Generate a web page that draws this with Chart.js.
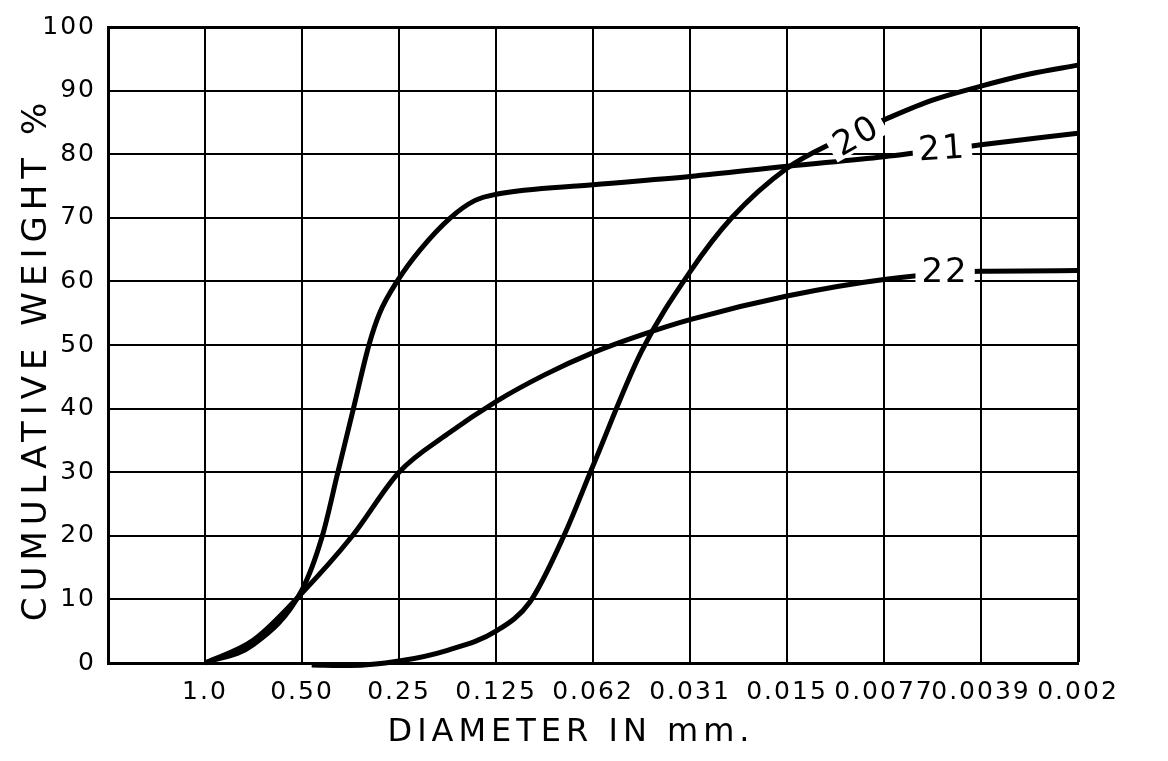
<!DOCTYPE html>
<html>
<head>
<meta charset="utf-8">
<script src="https://cdn.jsdelivr.net/npm/chart.js@4/dist/chart.umd.min.js"></script>
<style>
  html, body { margin: 0; padding: 0; background: #fff; }
</style>
</head>
<body>
<canvas id="sizeChart" width="1168" height="761"></canvas>
<script>
// tick labels, placed at positions 1..10 on the x axis
const diameters = ['1.0', '0.50', '0.25', '0.125', '0.062', '0.031', '0.015', '0.0077', '0.0039', '0.002'];

// sample 20
const pos20 = [2.1, 2.5, 3.0, 3.5, 4.0, 4.35, 4.7, 5.0, 5.5, 6.0, 6.43, 7.0, 7.5, 8.0, 8.5, 9.0, 9.5, 10.0];
const val20 = [-0.3, -0.4, 0.3, 2, 5, 9.6, 20, 31, 49, 61.5, 70, 77.8, 82, 85.4, 88.5, 90.7, 92.6, 94];

// sample 21
const pos21 = [1.0, 1.5, 2.0, 2.21, 2.37, 2.53, 2.69, 2.8, 2.98, 3.22, 3.53, 3.78, 4.0, 5.0, 6.0, 7.0, 8.0, 9.0, 10.0];
const val21 = [0, 2.9, 11.5, 20, 30, 40, 50, 55, 60, 65, 70, 72.7, 73.7, 75.2, 76.5, 78.1, 79.6, 81.5, 83.3];

// sample 22
const pos22 = [1.0, 1.5, 2.0, 2.52, 3.0, 3.5, 4.0, 4.5, 5.0, 5.5, 6.0, 7.0, 8.0, 9.0, 10.0];
const val22 = [0, 3.6, 11, 20, 30, 36, 41.1, 45.3, 48.8, 51.6, 54, 57.7, 60.3, 61.6, 61.7];

// curve labels written on the lines
const curveNames = ['20', '21', '22'];
const namePos = [7.72, 8.6, 8.63];
const nameVal = [82.8, 80.8, 61.4];
const nameAngle = [-30, -4, 0];

const xTitle = 'DIAMETER IN mm.';
const yTitle = 'CUMULATIVE WEIGHT %';

const font = 'DejaVu Sans';

function pts(xs, ys) {
    return xs.map((x, i) => ({ x: x, y: ys[i] }));
}

function curve(label, xs, ys) {
    return {
        label: label,
        data: pts(xs, ys),
        borderColor: '#000',
        borderWidth: 5,
        pointRadius: 0,
        cubicInterpolationMode: 'monotone',
        fill: false,
        clip: 6
    };
}

const spacing = {
    id: 'spacing',
    beforeLayout(chart) { chart.ctx.letterSpacing = '2px'; },
    beforeDraw(chart) { chart.ctx.letterSpacing = '2px'; }
};

const curveLabels = {
    id: 'curveLabels',
    afterDatasetsDraw(chart) {
        const ctx = chart.ctx;
        const xs = chart.scales.x;
        const ys = chart.scales.y;
        ctx.save();
        ctx.font = '34px "' + font + '"';
        ctx.textAlign = 'center';
        ctx.textBaseline = 'middle';
        curveNames.forEach((name, i) => {
            const px = xs.getPixelForValue(namePos[i]);
            const py = ys.getPixelForValue(nameVal[i]);
            const w = ctx.measureText(name).width;
            ctx.save();
            ctx.translate(px, py);
            ctx.rotate(nameAngle[i] * Math.PI / 180);
            ctx.fillStyle = '#fff';
            ctx.fillRect(-w / 2 - 6, -13, w + 12, 26);
            ctx.fillStyle = '#000';
            ctx.fillText(name, 0, 1);
            ctx.restore();
        });
        ctx.restore();
    }
};

// axis titles, drawn here so they can get their own wide letter spacing
const axisTitles = {
    id: 'axisTitles',
    afterDraw(chart) {
        const ctx = chart.ctx;
        const a = chart.chartArea;
        ctx.save();
        ctx.fillStyle = '#000';
        ctx.textAlign = 'center';
        ctx.textBaseline = 'middle';
        ctx.letterSpacing = '5px';
        ctx.font = '32px "' + font + '"';
        ctx.fillText(xTitle, (a.left + a.right) / 2 - 22, chart.height - 28);
        ctx.translate(37, (a.top + a.bottom) / 2 + 14);
        ctx.rotate(-Math.PI / 2);
        ctx.letterSpacing = '6px';
        ctx.font = '34px "' + font + '"';
        ctx.fillText(yTitle, 0, 0);
        ctx.restore();
    }
};

new Chart(document.getElementById('sizeChart').getContext('2d'), {
    type: 'line',
    data: {
        datasets: [
            curve('20', pos20, val20),
            curve('21', pos21, val21),
            curve('22', pos22, val22)
        ]
    },
    options: {
        responsive: false,
        animation: false,
        layout: { padding: { top: 23, right: 90, left: 0, bottom: 0 } },
        plugins: {
            legend: { display: false },
            tooltip: { enabled: false }
        },
        scales: {
            x: {
                type: 'linear',
                min: 0,
                max: 10,
                afterFit: (s) => { s.height = 98; },
                ticks: {
                    stepSize: 1,
                    autoSkip: false,
                    maxRotation: 0,
                    padding: 14,
                    color: '#000',
                    font: { family: font, size: 25 },
                    callback: (v) => (v >= 1 ? diameters[v - 1] : '')
                },
                grid: {
                    color: '#000',
                    lineWidth: (c) => (c.tick && c.tick.value === 10 ? 3 : 2),
                    drawTicks: false
                },
                border: { color: '#000', width: 3 }
            },
            y: {
                min: 0,
                max: 100,
                afterFit: (s) => { s.width = 108; },
                ticks: {
                    stepSize: 10,
                    padding: 12,
                    color: '#000',
                    font: { family: font, size: 25 }
                },
                grid: {
                    color: '#000',
                    lineWidth: (c) => (c.tick && c.tick.value === 100 ? 3 : 2),
                    drawTicks: false
                },
                border: { color: '#000', width: 3 }
            }
        }
    },
    plugins: [spacing, curveLabels, axisTitles]
});
</script>
</body>
</html>
